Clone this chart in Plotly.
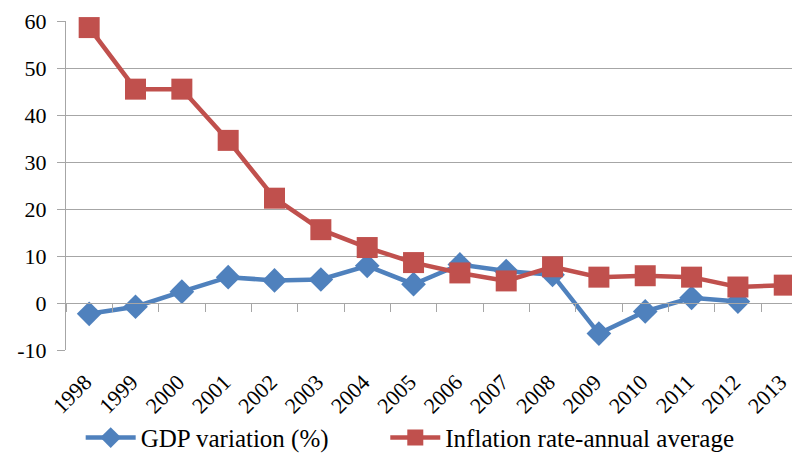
import plotly.graph_objects as go

years = ["1998", "1999", "2000", "2001", "2002", "2003", "2004", "2005",
         "2006", "2007", "2008", "2009", "2010", "2011", "2012", "2013"]
gdp = [-2.3, -0.8, 2.4, 5.5, 4.8, 5.0, 7.9, 4.0, 8.2, 6.8, 6.0, -6.5, -1.8, 1.1, 0.3, None]
inflation = [58.6, 45.5, 45.5, 34.6, 22.3, 15.6, 11.8, 8.6, 6.4, 4.7, 7.7, 5.5, 5.8, 5.5, 3.4, 3.8]
yticks = [-10, 0, 10, 20, 30, 40, 50, 60]
yticktext = ["-10", "0", "10", "20", "30", "40", "50", "60"]

BLUE = "#4F81BD"
RED = "#C0504D"
GRID = "#A6A6A6"
FONT = "Liberation Serif"

fig = go.Figure()
fig.add_trace(go.Scatter(
    x=years, y=gdp, name="GDP variation (%)", mode="lines+markers",
    line=dict(color=BLUE, width=4.5),
    marker=dict(symbol="diamond", size=19, color=BLUE),
    legend="legend", cliponaxis=False,
))
fig.add_trace(go.Scatter(
    x=years, y=inflation, name="Inflation rate-annual average", mode="lines+markers",
    line=dict(color=RED, width=4.5),
    marker=dict(symbol="square", size=21, color=RED),
    legend="legend2", cliponaxis=False,
))
# invisible helper trace for the category axis drawn at zero
fig.add_trace(go.Scatter(
    x=years, y=inflation, xaxis="x2", mode="markers", showlegend=False,
    marker=dict(opacity=0), hoverinfo="skip",
))

ymin, ymax = -10, 60
xrange = [-0.5, 15.34]
legend_style = dict(orientation="h", xanchor="left", y=-0.267, yanchor="middle",
                    font=dict(family=FONT, size=25), bgcolor="rgba(0,0,0,0)",
                    itemwidth=50)
fig.update_layout(
    width=792, height=447,
    margin=dict(l=58, r=0, t=13, b=105, autoexpand=False),
    paper_bgcolor="white", plot_bgcolor="white",
    font=dict(family=FONT, size=22, color="black"),
    showlegend=True,
    legend=dict(x=0.02, **legend_style),
    legend2=dict(x=0.435, **legend_style),
    xaxis=dict(type="category", categoryarray=years, range=xrange,
               tickvals=years, ticktext=[y + "\u00a0" for y in years],
               showgrid=False, zeroline=False, showline=False, automargin=False,
               tickangle=-45, ticks="", tickfont=dict(family=FONT, size=22),
               ticklabelstandoff=10),
    xaxis2=dict(type="category", categoryarray=years, range=xrange,
                overlaying="x", anchor="free",
                position=(0 - ymin) / (ymax - ymin),
                showgrid=False, zeroline=False, showline=True, linecolor=GRID, linewidth=1,
                ticks="outside", tickson="boundaries", ticklen=8, tickcolor=GRID,
                showticklabels=False),
    yaxis=dict(range=[ymin, ymax], tickvals=yticks, ticktext=yticktext,
               showgrid=True, gridcolor=GRID, gridwidth=1, automargin=False,
               zeroline=False, showline=True, linecolor=GRID, linewidth=1,
               ticks="outside", ticklen=8, tickcolor=GRID,
               tickfont=dict(family=FONT, size=22), ticklabelstandoff=6),
)

fig.write_html("out.html")
